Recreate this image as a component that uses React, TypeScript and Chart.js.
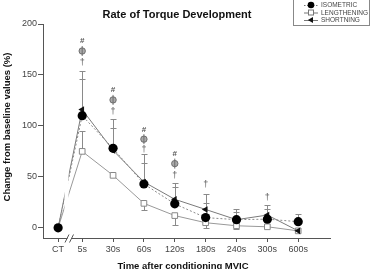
import React, { useEffect, useRef } from "react";
import { Chart, registerables } from "chart.js";

Chart.register(...registerables);

// Time points after the conditioning contraction
const categories = ["CT", "5s", "30s", "60s", "120s", "180s", "240s", "300s", "600s"];
// CT sits closer to 5s because the axis is broken between them
const BREAK_SHIFT = 0.78;
const xPositions = categories.map((_, i) => (i === 0 ? 1 - BREAK_SHIFT : i));

// Change from baseline (%)
const isometric = [0, 110, 78, 43, 23.5, 10, 8, 8.5, 6];
const lengthening = [0, 75, 51.5, 24, 12, 5, 2, 1, -3];
const shortening = [0, 116, 76, 45, 28, 18, 8, 12.5, -3];

// Error bars (upper / lower extent, %)
const isometricErrUp = [0, 36, 20, 21, 17, 14, 8, 10, 8];
const lengtheningErrUp = [0, 20, 0, 0, 0, 0, 0, 0, 0];
const lengtheningErrDown = [0, 0, 0, 7, 9, 5, 3, 0, 0];
const shorteningErrUp = [0, 38, 31, 27, 16, 15, 10.5, 9.5, 0];

// Significance markers: category index and height (%)
const hashMarks = [[1, 184], [2, 135], [3, 96], [4, 72.5]];
const phiMarks = [[1, 173.5], [2, 125.5], [3, 87], [4, 63]];
const daggerMarks = [[1, 163], [2, 115], [3, 77.5], [4, 52], [5, 43], [7, 31]];

const yTicks = [0, 50, 100, 150, 200];

const FONT = "'Liberation Sans', Arial, Helvetica, sans-serif";

const errorBars = {
  id: "errorBars",
  beforeDatasetsDraw(chart: any) {
    const { ctx } = chart;
    const xs = chart.scales.x;
    const ys = chart.scales.y;
    const sets: [number[], number[], number[] | null][] = [
      [shortening, shorteningErrUp, null],
      [isometric, isometricErrUp, null],
      [lengthening, lengtheningErrUp, lengtheningErrDown],
    ];
    ctx.save();
    ctx.strokeStyle = "#8a8a8a";
    ctx.lineWidth = 1;
    for (const [vals, up, down] of sets) {
      vals.forEach((v, i) => {
        const x = Math.round(xs.getPixelForValue(xPositions[i])) + 0.5;
        const ends: number[] = [];
        if (up[i] > 0) ends.push(v + up[i]);
        if (down && down[i] > 0) ends.push(v - down[i]);
        for (const e of ends) {
          const y0 = ys.getPixelForValue(v);
          const y1 = Math.round(ys.getPixelForValue(e)) + 0.5;
          ctx.beginPath();
          ctx.moveTo(x, y0);
          ctx.lineTo(x, y1);
          ctx.moveTo(x - 3, y1);
          ctx.lineTo(x + 3, y1);
          ctx.stroke();
        }
      });
    }
    ctx.restore();
  },
};

const decorations = {
  id: "decorations",
  afterDatasetsDraw(chart: any) {
    const { ctx, chartArea } = chart;
    const xs = chart.scales.x;
    const ys = chart.scales.y;
    ctx.save();

    // gap in the lines across the axis break
    ctx.fillStyle = "#fff";
    ctx.fillRect(64.5, chartArea.top, 4, chartArea.bottom - chartArea.top - 12);

    // axis break marks
    const yb = chartArea.bottom + 0.5;
    ctx.fillRect(67.5, yb - 1.5, 4, 3);
    ctx.strokeStyle = "#555";
    ctx.lineWidth = 1;
    ctx.beginPath();
    ctx.moveTo(65, yb + 4);
    ctx.lineTo(69, yb - 4);
    ctx.moveTo(69.5, yb + 4);
    ctx.lineTo(73.5, yb - 4);
    ctx.stroke();

    // significance markers
    ctx.textAlign = "center";
    ctx.textBaseline = "middle";
    ctx.fillStyle = "#555";
    ctx.font = `bold 8px ${FONT}`;
    for (const [i, v] of hashMarks) {
      ctx.fillText("#", xs.getPixelForValue(xPositions[i]), ys.getPixelForValue(v));
    }
    ctx.font = `9px ${FONT}`;
    for (const [i, v] of daggerMarks) {
      ctx.fillText("†", xs.getPixelForValue(xPositions[i]), ys.getPixelForValue(v) + 1);
    }
    for (const [i, v] of phiMarks) {
      const x = xs.getPixelForValue(xPositions[i]);
      const y = ys.getPixelForValue(v);
      ctx.beginPath();
      ctx.arc(x, y, 3.2, 0, Math.PI * 2);
      ctx.fillStyle = "#aaa";
      ctx.fill();
      ctx.strokeStyle = "#666";
      ctx.lineWidth = 0.9;
      ctx.stroke();
      ctx.beginPath();
      ctx.moveTo(x, y - 5);
      ctx.lineTo(x, y + 5);
      ctx.stroke();
    }

    // title
    ctx.fillStyle = "#111";
    ctx.font = `bold 11px ${FONT}`;
    ctx.textBaseline = "alphabetic";
    ctx.fillText("Rate of Torque Development", 177, 18);

    // x axis title
    ctx.font = `bold 9.5px ${FONT}`;
    ctx.textBaseline = "top";
    ctx.fillText("Time after conditioning MVIC", 183, 262);

    // y axis title
    ctx.save();
    ctx.translate(7, 127);
    ctx.rotate(-Math.PI / 2);
    ctx.textBaseline = "middle";
    ctx.fillText("Change from baseline values (%)", 0, 0);
    ctx.restore();

    // legend
    ctx.strokeStyle = "#888";
    ctx.lineWidth = 1;
    ctx.strokeRect(293.5, -2.5, 76, 28);
    const rows = [
      { label: "ISOMETRIC", y: 5, dash: [1.5, 1.5], kind: "circle" },
      { label: "LENGTHENING", y: 12.5, dash: [], kind: "square" },
      { label: "SHORTNING", y: 20, dash: [], kind: "triangle" },
    ];
    ctx.font = `6.5px ${FONT}`;
    ctx.textAlign = "left";
    ctx.textBaseline = "middle";
    for (const r of rows) {
      ctx.strokeStyle = "#777";
      ctx.setLineDash(r.dash);
      ctx.beginPath();
      ctx.moveTo(304, r.y + 0.5);
      ctx.lineTo(318, r.y + 0.5);
      ctx.stroke();
      ctx.setLineDash([]);
      const cx = 311;
      if (r.kind === "circle") {
        ctx.fillStyle = "#000";
        ctx.beginPath();
        ctx.arc(cx, r.y, 3.3, 0, Math.PI * 2);
        ctx.fill();
      } else if (r.kind === "square") {
        ctx.fillStyle = "#fff";
        ctx.fillRect(cx - 2.5, r.y - 2.5, 5, 5);
        ctx.strokeRect(cx - 2.5, r.y - 2.5, 5, 5);
      } else {
        ctx.fillStyle = "#111";
        ctx.beginPath();
        ctx.moveTo(cx - 3.2, r.y);
        ctx.lineTo(cx + 2, r.y - 3);
        ctx.lineTo(cx + 2, r.y + 3);
        ctx.closePath();
        ctx.fill();
      }
      ctx.fillStyle = "#444";
      ctx.fillText(r.label, 321, r.y + 0.5);
    }
    ctx.restore();
  },
};

export default function App() {
  const canvasRef = useRef<HTMLCanvasElement | null>(null);

  useEffect(() => {
    const canvas = canvasRef.current;
    if (!canvas) return;
    const toXY = (vals: number[]) => vals.map((v, i) => ({ x: xPositions[i], y: v }));

    const chart = new Chart(canvas, {
      type: "line",
      data: {
        datasets: [
          {
            label: "ISOMETRIC",
            data: toXY(isometric),
            borderColor: "#8a8a8a",
            borderWidth: 1,
            borderDash: [2, 2],
            pointStyle: "circle",
            pointRadius: 4.6,
            pointBackgroundColor: "#000",
            pointBorderColor: "#000",
            pointBorderWidth: 0,
          },
          {
            label: "SHORTNING",
            data: toXY(shortening),
            borderColor: "#7a7a7a",
            borderWidth: 1,
            pointStyle: "triangle",
            rotation: -90,
            pointRadius: 3.8,
            pointBackgroundColor: "#111",
            pointBorderColor: "#111",
            pointBorderWidth: 0,
          },
          {
            label: "LENGTHENING",
            data: toXY(lengthening),
            borderColor: "#999",
            borderWidth: 1,
            pointStyle: "rect",
            pointRadius: 4,
            pointBackgroundColor: "#fff",
            pointBorderColor: "#888",
            pointBorderWidth: 1,
          },
        ],
      },
      options: {
        responsive: false,
        animation: false,
        layout: { padding: { left: 0, right: 42, top: 24, bottom: 0 } },
        plugins: {
          legend: { display: false },
          title: { display: false },
          tooltip: { enabled: false },
        },
        scales: {
          x: {
            type: "linear",
            min: -0.27,
            max: 9.03,
            afterBuildTicks: (scale: any) => {
              scale.ticks = xPositions.map((v) => ({ value: v }));
            },
            afterFit: (scale: any) => {
              scale.height = 31;
            },
            ticks: {
              autoSkip: false,
              maxRotation: 0,
              padding: 2,
              color: "#444",
              font: { family: FONT, size: 9 },
              callback: (_v: any, i: number) => categories[i],
            },
            grid: { drawOnChartArea: false, tickLength: 4, color: "#555" },
            border: { display: true, color: "#555", width: 1 },
          },
          y: {
            min: -10,
            max: 200,
            afterBuildTicks: (scale: any) => {
              scale.ticks = yTicks.map((v) => ({ value: v }));
            },
            afterFit: (scale: any) => {
              scale.width = 43;
            },
            ticks: {
              padding: 1,
              color: "#444",
              font: { family: FONT, size: 9 },
            },
            grid: { drawOnChartArea: false, tickLength: 5, color: "#555" },
            border: { display: true, color: "#555", width: 1 },
          },
        },
      },
      plugins: [errorBars, decorations],
    });
    return () => chart.destroy();
  }, []);

  return (
    <div style={{ position: "fixed", left: 0, top: 0, width: 372, height: 269, background: "#fff" }}>
      <canvas ref={canvasRef} width={372} height={269} />
    </div>
  );
}
